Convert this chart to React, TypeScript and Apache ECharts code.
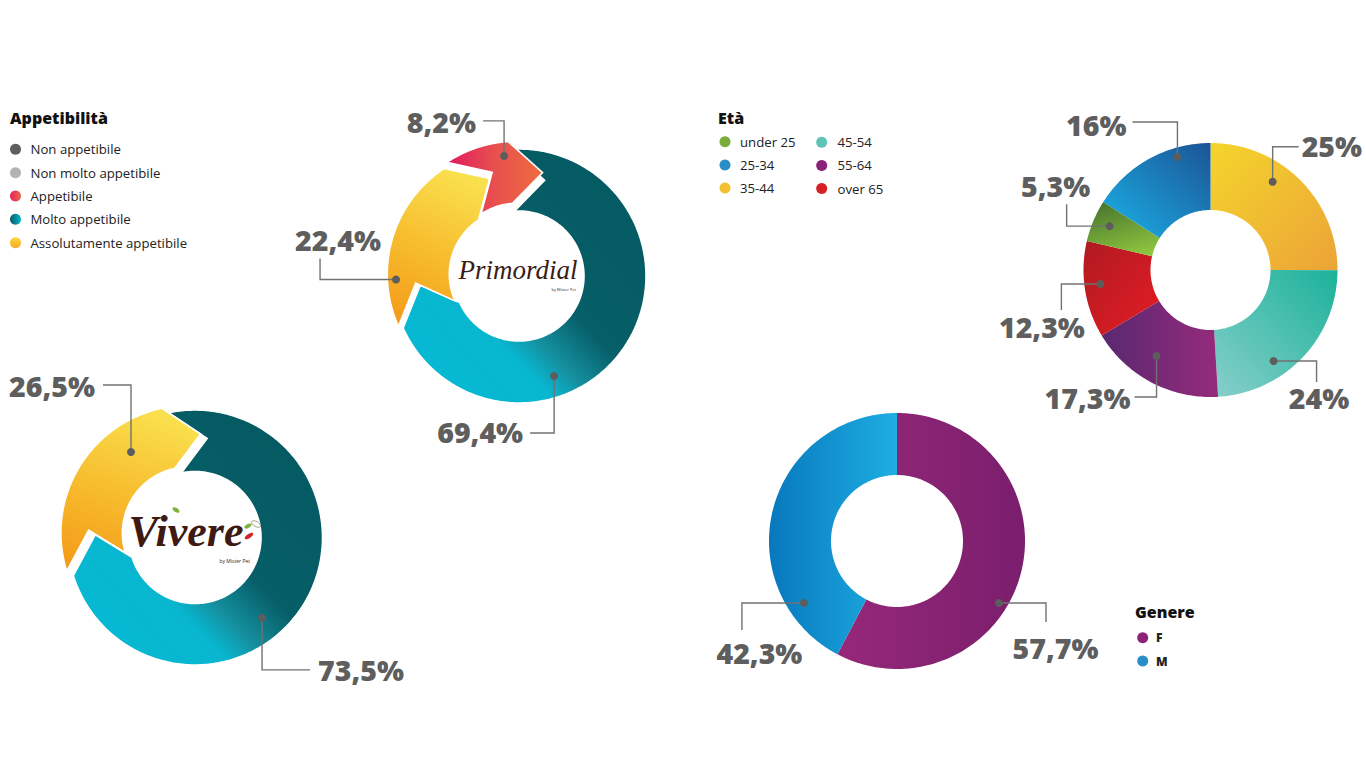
import React, { useEffect, useRef } from "react";
import * as echarts from "echarts";

// ---------------- DATA ----------------
const APPETIBILITA_LEGEND = [
  "Non appetibile",
  "Non molto appetibile",
  "Appetibile",
  "Molto appetibile",
  "Assolutamente appetibile",
];
const PRIMORDIAL_CATS = ["Molto appetibile", "Assolutamente appetibile", "Appetibile"];
const PRIMORDIAL_VALUES = [69.4, 22.4, 8.2];
const VIVERE_CATS = ["Molto appetibile", "Assolutamente appetibile"];
const VIVERE_VALUES = [73.5, 26.5];

const ETA_LEGEND_COL1 = ["under 25", "25-34", "35-44"];
const ETA_LEGEND_COL2 = ["45-54", "55-64", "over 65"];
const ETA_CATS = ["35-44", "45-54", "55-64", "over 65", "under 25", "25-34"];
const ETA_VALUES = [25, 24, 17.3, 12.3, 5.3, 16];

const GENERE_CATS = ["F", "M"];
const GENERE_VALUES = [57.7, 42.3];

// ---------------- STYLES / LAYOUT ----------------
type Grad = [number, number, number, number, [number, string][]];
const FILLS: Record<string, Grad> = {
  "Molto appetibile": [1, 0, 0, 1, [[0, "#045960"], [0.47, "#065e67"], [0.6, "#1590a0"], [0.68, "#08b6cf"], [1, "#05bad4"]]],
  "Assolutamente appetibile": [0.6, 0, 0.3, 1, [[0, "#fae04e"], [0.5, "#f7bf30"], [1, "#f49d1a"]]],
  Appetibile: [0, 0.5, 1, 0.5, [[0, "#e0195f"], [0.5, "#e8504f"], [1, "#ef6b3f"]]],
  "35-44": [0, 0, 1, 1, [[0, "#f4d52c"], [1, "#eca338"]]],
  "45-54": [1, 0, 0, 1, [[0, "#1bb29a"], [1, "#87cfca"]]],
  "55-64": [0, 0.5, 1, 0.5, [[0, "#592970"], [1, "#952a7b"]]],
  "over 65": [0, 0, 1, 1, [[0, "#b01a21"], [1, "#e51c25"]]],
  "under 25": [0.3, 0, 0.7, 1, [[0, "#4c782e"], [1, "#8dc63f"]]],
  "25-34": [1, 0, 0, 1, [[0, "#1b5495"], [1, "#1bb2e8"]]],
  F: [0, 0.5, 1, 0.5, [[0, "#962879"], [1, "#7a1e6d"]]],
  M: [1, 0.5, 0, 0.5, [[0, "#1eaee2"], [1, "#0878bd"]]],
};
const LEGEND_COLORS: Record<string, Grad | string> = {
  "Non appetibile": "#5f5f5f",
  "Non molto appetibile": "#b3b3b3",
  Appetibile: [0, 0.5, 1, 0.5, [[0, "#e2245e"], [1, "#ee6446"]]],
  "Molto appetibile": [0, 0.5, 1, 0.5, [[0, "#0a5c66"], [1, "#08b4cc"]]],
  "Assolutamente appetibile": [0.5, 0, 0.5, 1, [[0, "#fbd640"], [1, "#f6ab22"]]],
  "under 25": "#7aac3b",
  "25-34": "#2a8ec6",
  "35-44": "#f2c130",
  "45-54": "#5ec4b6",
  "55-64": "#8a2379",
  "over 65": "#d71f26",
  F: "#8d2379",
  M: "#2a8ec6",
};

type LabelCfg = { f: number; r: number; l1: [number, number]; l2: [number, number]; t: [number, number]; align: string };

const PRIMORDIAL_LAYOUT = { cx: 519, cy: 276, rIn: 65, rOut: 127, rot: 0, arrow: true, explode: [0, 5, 8] };
const PRIMORDIAL_LABELS: LabelCfg[] = [
  { f: 0.643, r: 106, l1: [0, 57], l2: [-24, 0], t: [-7, -1], align: "right" },
  { f: 0.23, r: 123, l1: [-76, 0], l2: [0, -21], t: [18, -18], align: "center" },
  { f: 0.76, r: 121, l1: [0, -35], l2: [-21, 0], t: [-7, 1], align: "right" },
];
const VIVERE_LAYOUT = { cx: 195, cy: 537.5, rIn: 66, rOut: 127.5, rot: -8, arrow: true, explode: [0, 8] };
const VIVERE_LABELS: LabelCfg[] = [
  { f: 0.56, r: 104.7, l1: [0, 52], l2: [48, 0], t: [8, 0], align: "left" },
  { f: 0.698, r: 106.8, l1: [0, -67], l2: [-28, 0], t: [-8, 1], align: "right" },
];
const ETA_LAYOUT = { cx: 1210.5, cy: 270, rIn: 60, rOut: 127, rot: 0, arrow: false, explode: [0, 0, 0, 0, 0, 0] };
const ETA_LABELS: LabelCfg[] = [
  { f: 0.39, r: 108, l1: [0, -35], l2: [26, 0], t: [3, -1], align: "left" },
  { f: 0.638, r: 110.7, l1: [43, 0], l2: [0, 21], t: [2.5, 16], align: "center" },
  { f: 0.57, r: 101.5, l1: [0, 41], l2: [-22, 0], t: [-4, 1], align: "right" },
  { f: 0.537, r: 111, l1: [-39, 0], l2: [0, 26], t: [-19.5, 17], align: "center" },
  { f: 0.537, r: 110, l1: [-43, 0], l2: [0, -22], t: [-11, -18], align: "center" },
  { f: 0.717, r: 117.7, l1: [0, -35], l2: [-45, 0], t: [-6, 3], align: "right" },
];
const GENERE_LAYOUT = { cx: 897, cy: 541, rIn: 66, rOut: 128, rot: 0, arrow: false, explode: [0, 0] };
const GENERE_LABELS: LabelCfg[] = [
  { f: 0.584, r: 119.4, l1: [47, 0], l2: [0, 19], t: [9.5, 26], align: "center" },
  { f: 0.188, r: 111.8, l1: [-62, 0], l2: [0, 27], t: [17.5, 23], align: "center" },
];

// ---------------- HELPERS ----------------
function grad(g: Grad | string) {
  if (typeof g === "string") return g;
  return new echarts.graphic.LinearGradient(g[0], g[1], g[2], g[3], g[4].map(([offset, color]) => ({ offset, color })));
}
function polar(cx: number, cy: number, deg: number, r: number): number[] {
  const a = (deg * Math.PI) / 180;
  return [cx + r * Math.sin(a), cy - r * Math.cos(a)];
}
function arc(cx: number, cy: number, r: number, from: number, to: number): number[][] {
  const n = Math.max(2, Math.ceil(Math.abs(to - from) / 1));
  const out: number[][] = [];
  for (let k = 0; k <= n; k++) out.push(polar(cx, cy, from + ((to - from) * k) / n, r));
  return out;
}
function fmt(v: number) {
  return String(v).replace(".", ",") + "%";
}
function cumStarts(values: number[]) {
  return values.map((_, i) => values.slice(0, i).reduce((a, b) => a + b, 0));
}

const CORNER_SHIFT = -4;
const TIP_SHIFT = 15;

function shapeSeries(id: string, L: any, cats: string[], values: number[]) {
  const total = values.reduce((a, b) => a + b, 0);
  const starts = cumStarts(values);
  return {
    type: "custom",
    id,
    coordinateSystem: "none",
    silent: true,
    z: 2,
    data: values.map((v, i) => [v, starts[i]]),
    renderItem: (params: any, api: any) => {
      const i = params.dataIndex;
      const v = api.value(0) as number;
      const s = api.value(1) as number;
      const a0 = L.rot + (s / total) * 360;
      const a1 = a0 + (v / total) * 360;
      const { cx, cy, rIn, rOut } = L;
      let pts: number[][];
      if (L.arrow) {
        const rTip = (rIn + rOut) / 2 + 3;
        const c0 = a0 + CORNER_SHIFT;
        const c1 = a1 + CORNER_SHIFT;
        pts = [
          ...arc(cx, cy, rOut, c0, c1),
          polar(cx, cy, a1 + TIP_SHIFT, rTip),
          ...arc(cx, cy, rIn, c1, c0),
          polar(cx, cy, a0 + TIP_SHIFT, rTip),
        ];
        const off = L.explode[i] || 0;
        if (off) {
          const mid = (a0 + a1) / 2;
          const d = polar(0, 0, mid, off);
          pts = pts.map((p) => [p[0] + d[0], p[1] + d[1]]);
        }
      } else {
        pts = [...arc(cx, cy, rOut, a0, a1), ...arc(cx, cy, rIn, a1, a0)];
      }
      return {
        type: "polygon",
        shape: { points: pts },
        style: {
          fill: grad(FILLS[cats[i]]),
          stroke: L.arrow ? "#ffffff" : null,
          lineWidth: L.arrow ? 1.6 : 0,
        },
      };
    },
  };
}

function labelSeries(id: string, L: any, values: number[], labels: LabelCfg[]) {
  const total = values.reduce((a, b) => a + b, 0);
  const starts = cumStarts(values);
  return {
    type: "custom",
    id,
    coordinateSystem: "none",
    silent: true,
    z: 5,
    data: values.map((v, i) => [v, starts[i]]),
    renderItem: (params: any, api: any) => {
      const i = params.dataIndex;
      const v = api.value(0) as number;
      const s = api.value(1) as number;
      const a0 = L.rot + (s / total) * 360;
      const a1 = a0 + (v / total) * 360;
      const lc = labels[i];
      const dot = polar(L.cx, L.cy, a0 + (a1 - a0) * lc.f, lc.r);
      const p1 = [dot[0] + lc.l1[0], dot[1] + lc.l1[1]];
      const p2 = [p1[0] + lc.l2[0], p1[1] + lc.l2[1]];
      return {
        type: "group",
        children: [
          {
            type: "polyline",
            shape: { points: [dot, p1, p2] },
            style: { stroke: "#727272", lineWidth: 1.4, fill: null },
          },
          { type: "circle", shape: { cx: dot[0], cy: dot[1], r: 4 }, style: { fill: "#5d5d5d" } },
          {
            type: "text",
            x: p2[0] + lc.t[0],
            y: p2[1] + lc.t[1],
            style: {
              text: fmt(v),
              fill: "#5e5e5e",
              fontSize: 28.5,
              fontWeight: 800,
              fontFamily: "'Open Sans', sans-serif",
              align: lc.align,
              verticalAlign: "middle",
            },
          },
        ],
      };
    },
  };
}

function legendGraphics() {
  const els: any[] = [];
  const title = (text: string, x: number, y: number, size = 16) =>
    els.push({
      type: "text",
      x,
      y,
      style: { text, fill: "#111111", fontSize: size, fontWeight: 800, fontFamily: "'Open Sans', sans-serif", verticalAlign: "middle" },
    });
  const item = (name: string, cx: number, cy: number, tx: number, bold = false) => {
    els.push({ type: "circle", shape: { cx, cy, r: 5.5 }, style: { fill: grad(LEGEND_COLORS[name]) } });
    els.push({
      type: "text",
      x: tx,
      y: cy,
      style: {
        text: name,
        fill: "#222222",
        fontSize: bold ? 12 : 13.2,
        fontWeight: bold ? 800 : 400,
        fontFamily: "'Open Sans', sans-serif",
        verticalAlign: "middle",
      },
    });
  };
  title("Appetibilità", 10, 118);
  APPETIBILITA_LEGEND.forEach((n, i) => item(n, 15.5, 149.3 + i * 23.35, 30.5));
  title("Età", 718, 118);
  ETA_LEGEND_COL1.forEach((n, i) => item(n, 725, 141.7 + i * 23.2, 740));
  ETA_LEGEND_COL2.forEach((n, i) => item(n, 821.7, 142.2 + i * 23.2, 837.5));
  title("Genere", 1135, 612, 16);
  GENERE_CATS.forEach((n, i) => item(n, 1142.7, 637.7 + i * 23.3, 1156, true));

  // logos
  els.push({
    type: "text",
    x: 518,
    y: 270,
    z: 10,
    style: {
      text: "Primordial",
      fill: "#3b1c14",
      fontSize: 27,
      lineHeight: 24,
      fontStyle: "italic",
      fontFamily: "'Liberation Serif', serif",
      align: "center",
      verticalAlign: "middle",
    },
  });
  els.push({
    type: "text",
    x: 576,
    y: 289,
    z: 10,
    style: { text: "by Mister Pet", fill: "#3b1c14", fontSize: 4, lineHeight: 4, fontFamily: "'Open Sans', sans-serif", align: "right", verticalAlign: "middle" },
  });
  els.push({
    type: "text",
    x: 186,
    y: 531,
    z: 10,
    style: {
      text: "Vivere",
      fill: "#3e1a12",
      fontSize: 44,
      lineHeight: 34,
      fontStyle: "italic",
      fontWeight: "bold",
      fontFamily: "'Liberation Serif', serif",
      align: "center",
      verticalAlign: "middle",
    },
  });
  els.push({
    type: "text",
    x: 250,
    y: 561,
    z: 10,
    style: { text: "by Mister Pet", fill: "#3e1a12", fontSize: 5, lineHeight: 5, fontFamily: "'Open Sans', sans-serif", align: "right", verticalAlign: "middle" },
  });
  els.push({ type: "ellipse", x: 176, y: 510, rotation: -0.6, z: 11, shape: { cx: 0, cy: 0, rx: 4, ry: 2 }, style: { fill: "#7cb43a" } });
  els.push({ type: "ellipse", x: 248, y: 526, rotation: 0.5, z: 11, shape: { cx: 0, cy: 0, rx: 4, ry: 2 }, style: { fill: "#7cb43a" } });
  els.push({ type: "ellipse", x: 256, y: 524, rotation: -0.5, z: 11, shape: { cx: 0, cy: 0, rx: 5, ry: 2.5 }, style: { fill: "#ffffff", stroke: "#8a8a6a", lineWidth: 0.7 } });
  els.push({ type: "ellipse", x: 249, y: 536, rotation: 0.6, z: 11, shape: { cx: 0, cy: 0, rx: 5, ry: 2 }, style: { fill: "#d3212a" } });
  return els;
}

export default function App() {
  const ref = useRef<HTMLDivElement>(null);
  useEffect(() => {
    if (!ref.current) return;
    const chart = echarts.init(ref.current, undefined, { renderer: "svg" });
    chart.setOption({
      animation: false,
      backgroundColor: "#ffffff",
      series: [
        shapeSeries("primordial", PRIMORDIAL_LAYOUT, PRIMORDIAL_CATS, PRIMORDIAL_VALUES),
        shapeSeries("vivere", VIVERE_LAYOUT, VIVERE_CATS, VIVERE_VALUES),
        shapeSeries("eta", ETA_LAYOUT, ETA_CATS, ETA_VALUES),
        shapeSeries("genere", GENERE_LAYOUT, GENERE_CATS, GENERE_VALUES),
        labelSeries("primordialLabels", PRIMORDIAL_LAYOUT, PRIMORDIAL_VALUES, PRIMORDIAL_LABELS),
        labelSeries("vivereLabels", VIVERE_LAYOUT, VIVERE_VALUES, VIVERE_LABELS),
        labelSeries("etaLabels", ETA_LAYOUT, ETA_VALUES, ETA_LABELS),
        labelSeries("genereLabels", GENERE_LAYOUT, GENERE_VALUES, GENERE_LABELS),
      ],
      graphic: legendGraphics(),
    });
    return () => chart.dispose();
  }, []);
  return <div ref={ref} style={{ position: "fixed", left: 0, top: 0, width: "1366px", height: "773px" }} />;
}
